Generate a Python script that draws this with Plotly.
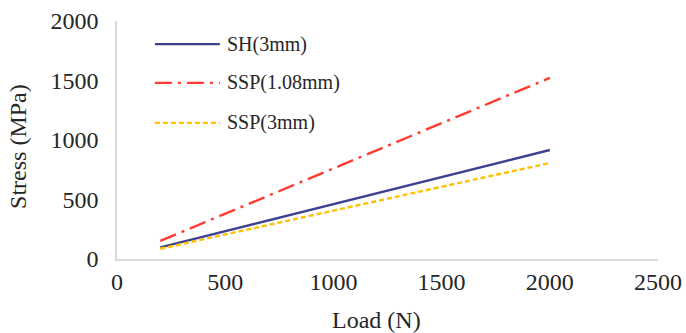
import plotly.graph_objects as go

load = [200, 2000]
sh_3mm = [98, 916]
ssp_108mm = [152, 1522]
ssp_3mm = [86, 807]
series_names = ["SH(3mm)", "SSP(1.08mm)", "SSP(3mm)"]
x_ticks = [0, 500, 1000, 1500, 2000, 2500]
y_ticks = [0, 500, 1000, 1500, 2000]
x_title = "Load (N)"
y_title = "Stress (MPa)"

font_family = "Liberation Serif, Times New Roman, serif"
txt = "#262626"

styles = [
    dict(color="#3d4291", width=2.4, dash="solid"),
    dict(color="#ff3b30", width=2.4, dash="17px,6px,3px,6px"),
    dict(color="#ffc000", width=2.4, dash="5px,3px"),
]
series = [sh_3mm, ssp_108mm, ssp_3mm]

fig = go.Figure()
for name, ys, st in zip(series_names, series, styles):
    fig.add_trace(go.Scatter(x=load, y=ys, mode="lines", name=name,
                             line=st, showlegend=False))

# Legend drawn as shapes + annotations (paper coordinates)
legend_rows = [0.903, 0.74, 0.572]
shapes = []
annotations = []
for name, st, yy in zip(series_names, styles, legend_rows):
    shapes.append(dict(type="line", xref="paper", yref="paper",
                       x0=0.070, x1=0.190, y0=yy, y1=yy,
                       line=dict(color=st["color"], width=st["width"], dash=st["dash"])))
    annotations.append(dict(text=name, xref="paper", yref="paper", x=0.2, y=yy,
                            xanchor="left", yanchor="middle", showarrow=False,
                            font=dict(size=20, family=font_family, color=txt)))

annotations += [
    dict(text=x_title, xref="paper", yref="paper", x=0.48, y=-0.256,
         xanchor="center", yanchor="middle", showarrow=False,
         font=dict(size=24, family=font_family, color=txt)),
    dict(text=y_title, xref="paper", yref="paper", x=-0.183, y=0.475,
         xanchor="center", yanchor="middle", showarrow=False, textangle=-90,
         font=dict(size=24, family=font_family, color=txt)),
]

fig.update_layout(
    width=686, height=333,
    margin=dict(l=117, r=28, t=21, b=74),
    paper_bgcolor="white", plot_bgcolor="white",
    font=dict(family=font_family, color=txt),
    showlegend=False,
    xaxis=dict(range=[0, 2500], tickvals=x_ticks, ticktext=[str(v) for v in x_ticks],
               showgrid=False, zeroline=False, showline=True, linecolor="#d9d9d9",
               linewidth=1.5, ticks="", tickfont=dict(size=24, family=font_family, color=txt),
               automargin=False),
    yaxis=dict(range=[0, 2000], tickvals=y_ticks, ticktext=[str(v) for v in y_ticks],
               showgrid=False, zeroline=False, showline=True, linecolor="#d9d9d9",
               linewidth=1.5, ticks="", tickfont=dict(size=24, family=font_family, color=txt),
               ticklabelstandoff=12, automargin=False),
    shapes=shapes,
    annotations=annotations,
)

fig.write_html("out.html", config={"displayModeBar": False},
               post_script="document.body.style.margin='0';document.body.style.padding='0';")
